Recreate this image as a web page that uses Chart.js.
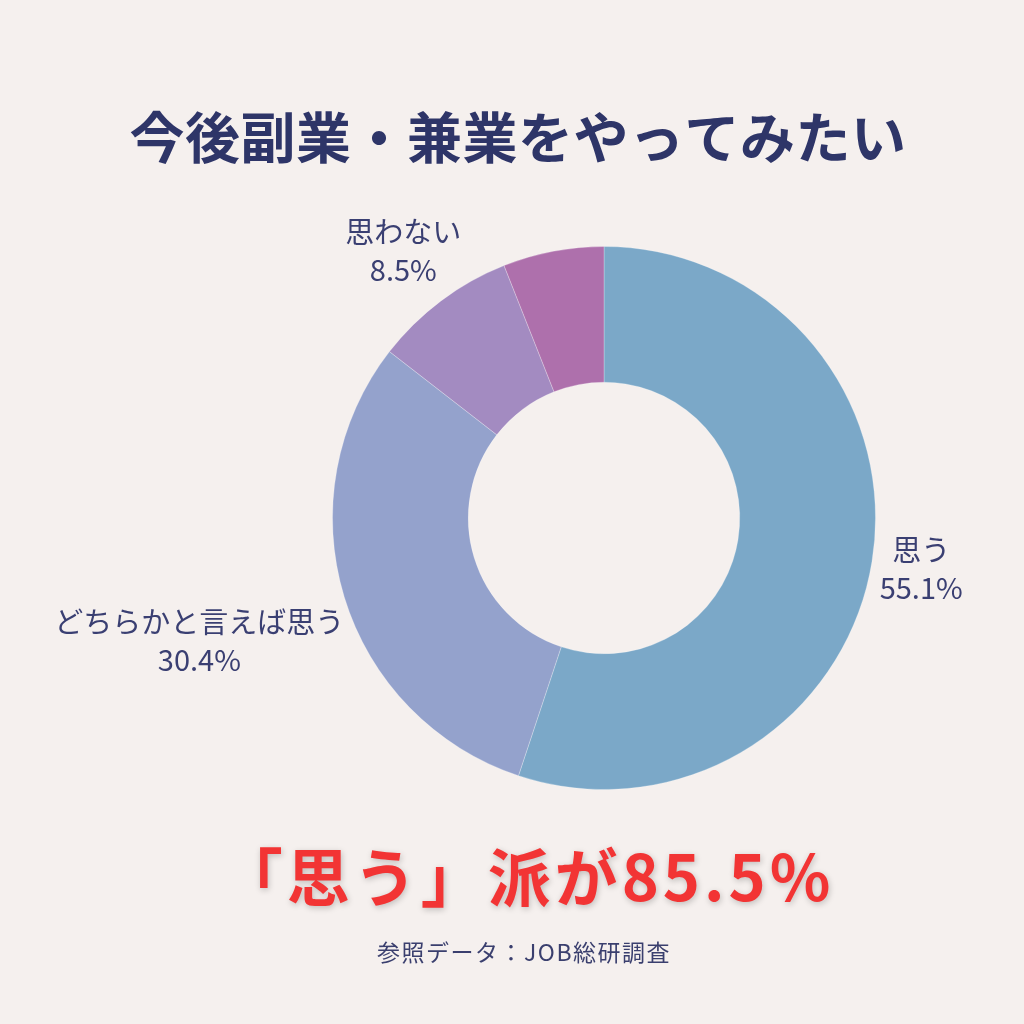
<!DOCTYPE html>
<html>
<head>
<meta charset="utf-8">
<script src="https://cdn.jsdelivr.net/npm/chart.js@4"></script>
<style>
html,body{margin:0;padding:0;background:#F5F0EE;}
#wrap{position:relative;width:1024px;height:1024px;}
canvas{display:block;}
</style>
</head>
<body>
<div id="wrap"><canvas id="c" width="1024" height="1024"></canvas></div>
<script>
const categories = ["思う", "どちらかと言えば思う", "思わない", "思わない（その他）"];
const values = [55.1, 30.4, 8.5, 6.0];
const labelShown = [true, true, true, false];
const colors = ["#7BA8C8", "#94A2CC", "#A38BC1", "#AE70AC"];
const titleText = "今後副業・兼業をやってみたい";
const highlightText = "「思う」派が85.5%";
const sourceText = "参照データ：JOB総研調査";

const JP = '"Noto Sans CJK JP", "Noto Sans", sans-serif';

const textPlugin = {
  id: 'texts',
  afterDraw(chart) {
    const ctx = chart.ctx;
    ctx.save();
    ctx.textAlign = 'center';
    ctx.textBaseline = 'middle';
    // title
    ctx.fillStyle = '#2E3568';
    ctx.font = 'bold 55px ' + JP;
    if ('letterSpacing' in ctx) ctx.letterSpacing = '0.5px';
    ctx.fillText(titleText, 518, 137);
    // highlight
    ctx.save();
    ctx.shadowColor = 'rgba(0,0,0,0.22)';
    ctx.shadowBlur = 6;
    ctx.shadowOffsetX = 1;
    ctx.shadowOffsetY = 2;
    ctx.fillStyle = '#F23434';
    ctx.font = 'bold 63px ' + JP;
    if ('letterSpacing' in ctx) ctx.letterSpacing = '4px';
    ctx.fillText(highlightText, 527, 877);
    ctx.restore();
    // source
    ctx.fillStyle = '#3A3F6E';
    ctx.font = '23px ' + JP;
    if ('letterSpacing' in ctx) ctx.letterSpacing = '1.5px';
    ctx.fillText(sourceText, 524, 952);

    // slice labels
    if ('letterSpacing' in ctx) ctx.letterSpacing = '0px';
    const meta = chart.getDatasetMeta(0);
    ctx.font = '29px ' + JP;
    ctx.fillStyle = '#3A3F72';
    meta.data.forEach((arc, i) => {
      if (!labelShown[i]) return;
      const p = arc.getProps(['x', 'y', 'startAngle', 'endAngle', 'outerRadius']);
      const mid = (p.startAngle + p.endAngle) / 2;
      const dx = Math.cos(mid), dy = Math.sin(mid);
      const line1 = categories[i];
      const line2 = values[i].toFixed(1) + '%';
      const hw = Math.max(ctx.measureText(line1).width, ctx.measureText(line2).width) / 2;
      const hh = 30;
      const dist = p.outerRadius + 4 + Math.abs(dx) * hw + Math.abs(dy) * hh;
      const cx = p.x + dx * dist, cy = p.y + dy * dist;
      ctx.fillText(line1, cx, cy - 19);
      ctx.fillText(line2, cx, cy + 19);
    });
    ctx.restore();
  }
};

new Chart(document.getElementById('c'), {
  type: 'doughnut',
  data: {
    labels: categories,
    datasets: [{
      data: values,
      backgroundColor: colors,
      borderColor: 'rgba(255,255,255,0.25)',
      borderWidth: 1
    }]
  },
  options: {
    responsive: false,
    animation: false,
    cutout: '50%',
    layout: { padding: { left: 332, right: 148, top: 246, bottom: 234 } },
    plugins: { legend: { display: false }, tooltip: { enabled: false } }
  },
  plugins: [textPlugin]
});
</script>
</body>
</html>
